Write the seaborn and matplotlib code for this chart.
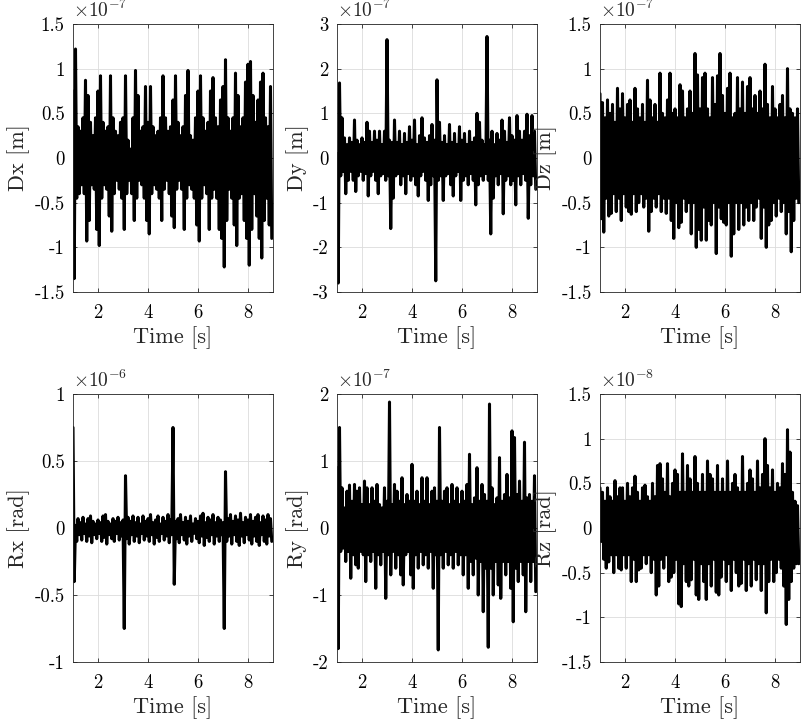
import numpy as np
import pandas as pd
import matplotlib
matplotlib.use("Agg")
import matplotlib.pyplot as plt
import seaborn as sns

# ========================
# Data (peaks / troughs, in units of the axis multiplier)
# peaks at t = 1.0, 1.1, ... ; troughs half a step after each peak
# ========================

t_start = 1.0
half_step = 0.05

dx_peaks = [0.75, 1.22, 0.35, 0.3, 0.45, 0.87, 0.7, 0.4, 0.25, 0.45,
            0.75, 0.92, 0.4, 0.3, 0.35, 0.92, 0.45, 0.3, 0.25, 0.4,
            0.45, 0.92, 0.2, 0.1, 0.45, 0.98, 0.7, 0.3, 0.35, 0.8,
            0.4, 0.8, 0.35, 0.25, 0.3, 0.45, 0.92, 0.45, 0.3, 0.35,
            0.65, 0.92, 0.4, 0.25, 0.35, 0.7, 0.98, 0.25, 0.2, 0.45,
            0.75, 0.92, 0.45, 0.3, 0.4, 0.75, 0.9, 0.45, 0.35, 0.65,
            0.8, 1.1, 0.45, 0.3, 0.45, 0.95, 0.7, 0.35, 0.45, 0.85,
            1.05, 1.08, 0.7, 0.4, 0.65, 0.85, 0.95, 0.45, 0.35, 0.8]
dx_troughs = [-1.35, -0.45, -0.4, -0.3, -0.4, -0.93, -0.7, -0.3, -0.35, -0.8,
              -0.98, -0.45, -0.3, -0.35, -0.65, -0.82, -0.4, -0.25, -0.35, -0.45,
              -0.8, -0.4, -0.25, -0.4, -0.7, -0.45, -0.25, -0.3, -0.45, -0.7,
              -0.85, -0.4, -0.3, -0.35, -0.45, -0.7, -0.35, -0.25, -0.4, -0.65,
              -0.78, -0.35, -0.25, -0.35, -0.8, -0.45, -0.3, -0.35, -0.45, -0.75,
              -0.93, -0.45, -0.3, -0.4, -0.8, -0.45, -0.35, -0.45, -0.8, -0.9,
              -1.22, -0.7, -0.35, -0.45, -0.75, -0.98, -0.45, -0.4, -0.7, -0.9,
              -1.2, -0.8, -0.4, -0.65, -0.9, -1.12, -0.7, -0.45, -0.75, -0.9]

dy_peaks = [0.1, 1.68, 0.9, 0.45, 0.3, 0.45, 0.35, 0.85, 0.4, 0.3,
            0.45, 0.35, 0.8, 0.6, 0.35, 0.6, 0.4, 0.6, 0.3, 0.6,
            2.65, 0.4, 0.35, 0.85, 0.35, 0.6, 0.3, 0.55, 0.35, 0.7,
            0.4, 0.85, 0.3, 0.5, 0.9, 0.45, 0.35, 0.5, 0.75, 0.4,
            1.75, 0.8, 0.35, 0.5, 0.3, 0.75, 0.35, 0.55, 0.3, 0.7,
            0.4, 0.55, 0.3, 0.6, 0.35, 0.45, 1.0, 0.8, 0.4, 0.3,
            2.72, 0.4, 0.6, 0.3, 0.55, 0.4, 0.85, 0.6, 0.35, 0.9,
            0.5, 0.4, 0.95, 0.6, 0.4, 0.6, 0.98, 0.5, 0.95, 0.6]
dy_troughs = [-2.8, -0.4, -0.3, -0.8, -0.5, -0.3, -0.5, -0.75, -0.4, -0.3,
              -0.5, -0.35, -0.85, -0.4, -0.3, -0.5, -0.8, -0.4, -0.35, -0.5,
              -0.4, -1.58, -0.9, -0.4, -0.35, -0.6, -0.4, -0.8, -0.35, -0.5,
              -0.4, -0.6, -0.85, -0.4, -0.3, -0.5, -0.95, -0.6, -0.4, -2.75,
              -0.5, -0.4, -0.95, -0.4, -0.35, -0.6, -0.85, -0.4, -0.3, -0.95,
              -0.5, -0.4, -0.6, -0.35, -0.5, -1.05, -0.6, -0.4, -0.5, -0.35,
              -0.5, -1.7, -0.9, -0.4, -0.6, -0.35, -1.25, -0.5, -0.4, -0.6,
              -0.5, -1.05, -0.4, -0.6, -0.35, -0.5, -1.35, -0.6, -0.4, -0.7]

dz_peaks = [0.72, 0.62, 0.45, 0.65, 0.5, 0.6, 0.4, 0.78, 0.55, 0.72,
            0.45, 0.6, 0.65, 0.4, 0.78, 0.55, 0.45, 0.6, 0.4, 0.87,
            0.65, 0.45, 0.6, 0.4, 0.95, 0.5, 0.45, 0.65, 0.95, 0.5,
            0.55, 0.45, 0.82, 0.75, 0.45, 0.55, 0.75, 0.5, 1.17, 0.93,
            0.55, 0.9, 0.95, 0.55, 0.45, 0.9, 0.6, 0.92, 1.17, 0.7,
            0.5, 0.78, 0.95, 0.45, 0.5, 0.9, 0.55, 0.85, 0.5, 0.8,
            0.9, 0.55, 0.7, 0.5, 0.75, 0.55, 1.05, 0.6, 0.45, 0.8,
            0.55, 0.45, 0.6, 0.7, 0.45, 1.0, 0.55, 0.5, 0.45, 0.55]
dz_troughs = [-0.68, -0.83, -0.45, -0.65, -0.62, -0.4, -0.6, -0.45, -0.7, -0.4,
              -0.55, -0.6, -0.63, -0.4, -0.6, -0.5, -0.4, -0.55, -0.45, -0.82,
              -0.6, -0.45, -0.55, -0.4, -0.6, -0.45, -0.62, -0.45, -0.7, -0.9,
              -0.5, -0.78, -0.72, -0.45, -0.6, -0.5, -0.85, -0.5, -1.0, -0.8,
              -0.92, -0.55, -0.92, -0.7, -0.75, -0.5, -1.07, -0.55, -0.68, -0.72,
              -0.75, -0.5, -1.1, -0.85, -0.5, -0.8, -0.5, -0.75, -0.55, -0.7,
              -0.5, -0.7, -0.55, -0.45, -0.9, -0.55, -1.0, -0.75, -0.7, -0.5,
              -0.65, -0.45, -0.6, -0.5, -0.85, -0.6, -1.05, -0.7, -0.45, -0.5]

rx_peaks = [0.75, 0.02, 0.07, 0.04, 0.08, 0.03, 0.07, 0.09, 0.05, 0.03,
            0.06, 0.04, 0.09, 0.1, 0.05, 0.03, 0.07, 0.05, 0.08, 0.04,
            0.06, 0.39, 0.08, 0.05, 0.09, 0.04, 0.08, 0.03, 0.09, 0.05,
            0.07, 0.1, 0.04, 0.06, 0.09, 0.03, 0.08, 0.05, 0.1, 0.06,
            0.75, 0.05, 0.07, 0.1, 0.04, 0.08, 0.05, 0.09, 0.03, 0.07,
            0.05, 0.09, 0.11, 0.04, 0.08, 0.06, 0.1, 0.04, 0.08, 0.06,
            0.04, 0.42, 0.07, 0.1, 0.05, 0.09, 0.06, 0.11, 0.04, 0.08,
            0.06, 0.1, 0.05, 0.08, 0.1, 0.04, 0.09, 0.06, 0.1, 0.07]
rx_troughs = [-0.4, -0.1, -0.05, -0.09, -0.04, -0.1, -0.06, -0.11, -0.05, -0.08,
              -0.04, -0.1, -0.07, -0.12, -0.05, -0.08, -0.1, -0.04, -0.09, -0.06,
              -0.75, -0.08, -0.12, -0.05, -0.1, -0.06, -0.11, -0.04, -0.09, -0.06,
              -0.1, -0.05, -0.12, -0.07, -0.1, -0.04, -0.09, -0.06, -0.11, -0.05,
              -0.42, -0.08, -0.11, -0.05, -0.09, -0.12, -0.06, -0.1, -0.04, -0.08,
              -0.11, -0.06, -0.13, -0.07, -0.1, -0.05, -0.12, -0.06, -0.1, -0.05,
              -0.75, -0.1, -0.06, -0.12, -0.05, -0.1, -0.13, -0.06, -0.11, -0.05,
              -0.09, -0.12, -0.06, -0.1, -0.13, -0.05, -0.1, -0.12, -0.06, -0.1]

ry_peaks = [0.9, 1.5, 0.6, 0.3, 0.55, 0.64, 0.4, 0.65, 0.55, 0.6,
            0.35, 0.7, 0.6, 0.35, 0.6, 0.4, 0.65, 0.35, 0.3, 0.6,
            0.4, 1.88, 0.35, 0.65, 0.55, 0.4, 0.75, 0.35, 0.5, 0.4,
            0.95, 0.4, 0.55, 0.35, 0.75, 0.4, 0.75, 0.35, 0.55, 0.6,
            0.4, 1.5, 0.4, 0.55, 0.6, 0.35, 0.65, 0.4, 0.6, 0.35,
            0.55, 0.4, 0.65, 1.1, 0.35, 0.45, 0.9, 0.4, 0.65, 0.5,
            0.4, 1.85, 0.6, 0.35, 0.45, 1.05, 0.4, 0.5, 0.8, 0.45,
            1.45, 1.35, 0.5, 0.7, 0.4, 1.28, 0.45, 0.5, 0.4, 0.78]
ry_troughs = [-1.8, -0.35, -0.3, -0.5, -0.35, -0.75, -0.4, -0.55, -0.6, -0.35,
              -0.4, -0.8, -0.4, -0.5, -0.35, -0.9, -0.4, -0.55, -0.35, -1.05,
              -0.4, -0.7, -0.35, -0.6, -0.4, -0.7, -0.85, -0.4, -0.35, -0.7,
              -0.9, -0.4, -0.6, -0.35, -0.55, -0.4, -0.6, -0.35, -0.9, -0.4,
              -1.82, -0.4, -0.6, -0.35, -0.55, -0.4, -0.6, -0.35, -0.55, -0.4,
              -0.7, -0.4, -0.9, -0.5, -0.7, -0.45, -1.0, -0.5, -1.25, -0.6,
              -1.78, -0.6, -1.0, -0.5, -0.85, -1.05, -0.5, -0.7, -0.5, -0.9,
              -1.4, -0.6, -0.8, -0.5, -0.7, -1.25, -0.5, -0.8, -0.5, -0.95]

rz_peaks = [0.45, 0.4, 0.3, 0.45, 0.35, 0.3, 0.53, 0.35, 0.45, 0.45,
            0.3, 0.5, 0.35, 0.45, 0.58, 0.4, 0.3, 0.45, 0.48, 0.35,
            0.3, 0.5, 0.35, 0.7, 0.72, 0.55, 0.4, 0.72, 0.35, 0.5,
            0.65, 0.6, 0.4, 0.83, 0.4, 0.7, 0.55, 0.4, 0.8, 0.5,
            0.4, 0.6, 0.4, 0.75, 0.6, 0.55, 0.4, 0.7, 0.4, 0.55,
            0.4, 0.75, 0.4, 0.5, 0.6, 0.45, 0.4, 0.8, 0.4, 0.5,
            0.65, 0.55, 0.4, 0.75, 0.45, 0.6, 1.0, 0.7, 0.45, 0.65,
            0.4, 0.5, 0.45, 0.72, 0.6, 1.1, 0.85, 0.4, 0.3, 0.25]
rz_troughs = [-0.15, -0.35, -0.45, -0.38, -0.3, -0.5, -0.3, -0.45, -0.47, -0.3,
              -0.45, -0.3, -0.6, -0.35, -0.6, -0.47, -0.45, -0.3, -0.4, -0.3,
              -0.5, -0.35, -0.75, -0.65, -0.35, -0.45, -0.3, -0.6, -0.55, -0.5,
              -0.35, -0.85, -0.88, -0.4, -0.6, -0.65, -0.58, -0.35, -0.75, -0.8,
              -0.4, -0.6, -0.8, -0.4, -0.65, -0.35, -0.72, -0.75, -0.55, -0.35,
              -0.6, -0.4, -0.7, -0.35, -0.5, -0.65, -0.62, -0.35, -0.7, -0.4,
              -0.65, -0.35, -0.58, -0.4, -0.7, -0.4, -0.95, -0.6, -0.35, -0.6,
              -0.5, -0.35, -0.45, -0.65, -1.08, -0.8, -0.6, -0.45, -0.4, -0.4]

labels = ["Dx [m]", "Dy [m]", "Dz [m]", "Rx [rad]", "Ry [rad]", "Rz [rad]"]
exponents = [-7, -7, -7, -6, -7, -8]
peaks = [dx_peaks, dy_peaks, dz_peaks, rx_peaks, ry_peaks, rz_peaks]
troughs = [dx_troughs, dy_troughs, dz_troughs, rx_troughs, ry_troughs, rz_troughs]
yticks = [[-1.5, -1, -0.5, 0, 0.5, 1, 1.5],
          [-3, -2, -1, 0, 1, 2, 3],
          [-1.5, -1, -0.5, 0, 0.5, 1, 1.5],
          [-1, -0.5, 0, 0.5, 1],
          [-2, -1, 0, 1, 2],
          [-1.5, -1, -0.5, 0, 0.5, 1, 1.5]]
xticks = [2, 4, 6, 8]

# ========================
# Figure
# ========================

sns.set_theme(style="ticks")
plt.rcParams["font.family"] = "serif"
plt.rcParams["font.serif"] = ["cmr10"]
plt.rcParams["mathtext.fontset"] = "cm"
plt.rcParams["axes.unicode_minus"] = False
plt.rcParams["axes.formatter.use_mathtext"] = True

W, H = 805, 725
fig = plt.figure(figsize=(W / 100, H / 100), dpi=100)

lefts = [73, 337, 600]
tops = [24, 394]
ax_w, ax_h = 200, 268

for i in range(6):
    r, c = divmod(i, 3)
    ax = fig.add_axes([lefts[c] / W, 1 - (tops[r] + ax_h) / H, ax_w / W, ax_h / H])

    vals = np.empty(2 * len(peaks[i]))
    vals[0::2] = peaks[i]
    vals[1::2] = troughs[i]
    t = t_start + half_step * np.arange(len(vals))
    df = pd.DataFrame({"t": t, "v": vals})

    sns.lineplot(data=df, x="t", y="v", ax=ax, color="black", linewidth=2.2,
                 estimator=None, sort=False)

    ax.set_xlim(1, 9)
    ax.set_ylim(yticks[i][0], yticks[i][-1])
    ax.set_xticks(xticks)
    ax.set_xticklabels([f"{v:g}" for v in xticks])
    ax.set_yticks(yticks[i])
    ax.set_yticklabels([f"{v:g}" for v in yticks[i]])
    ax.grid(True, color="#dcdcdc", linewidth=0.6)
    ax.set_axisbelow(True)
    for s in ax.spines.values():
        s.set_visible(True)
        s.set_color("#262626")
        s.set_linewidth(0.6)
    ax.tick_params(axis="both", direction="in", length=3, width=0.6,
                   top=True, right=True, labelsize=13.5, colors="#262626")
    ax.tick_params(axis="x", pad=9)
    ax.tick_params(axis="y", pad=6)
    for lab in ax.get_xticklabels() + ax.get_yticklabels():
        lab.set_color("black")

    ax.set_xlabel("Time [s]", fontsize=16, labelpad=3)
    ax.set_ylabel(labels[i], fontsize=16, labelpad=3)
    ax.text(0.0, 1.01, r"$\times10^{%d}$" % exponents[i], transform=ax.transAxes,
            ha="left", va="bottom", fontsize=14)

fig.savefig("out.png", dpi=100)
